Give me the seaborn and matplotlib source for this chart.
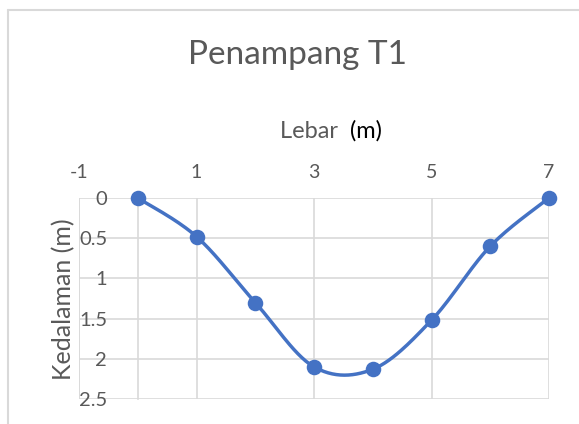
import numpy as np
import pandas as pd
import matplotlib
matplotlib.use('Agg')
import matplotlib.pyplot as plt
import seaborn as sns
from matplotlib.lines import Line2D

# Data
lebar = [0, 1, 2, 3, 4, 5, 6, 7]
kedalaman = [0, 0.48, 1.3, 2.1, 2.13, 1.52, 0.6, 0]
x_ticks = [-1, 1, 3, 5, 7]
y_ticks = [0, 0.5, 1, 1.5, 2, 2.5]
y_labels = ['0', '0.5', '1', '1.5', '2', '2.5']

blue = '#4472C4'
gray_text = '#595959'
grid_color = '#D9D9D9'

sns.set_style('white')
plt.rcParams['font.family'] = ['Lato', 'DejaVu Sans']
plt.rcParams['axes.unicode_minus'] = False


# Excel-like smoothed line (Bezier segments through the data points)
def excel_smooth(x, y, n=30):
    p = np.column_stack([x, y]).astype(float)
    p_ext = np.vstack([p[0], p, p[-1]])
    out = []
    for i in range(len(p) - 1):
        p0, p1, p2, p3 = p_ext[i], p_ext[i + 1], p_ext[i + 2], p_ext[i + 3]
        c1 = p1 + (p2 - p0) / 6
        c2 = p2 - (p3 - p1) / 6
        t = np.linspace(0, 1, n)[:, None]
        seg = ((1 - t) ** 3) * p1 + 3 * ((1 - t) ** 2) * t * c1 + 3 * (1 - t) * t ** 2 * c2 + t ** 3 * p2
        out.append(seg if i == 0 else seg[1:])
    return np.vstack(out)


df = pd.DataFrame({'lebar': lebar, 'kedalaman': kedalaman})
curve = excel_smooth(lebar, kedalaman)
curve_df = pd.DataFrame({'lebar': curve[:, 0], 'kedalaman': curve[:, 1]})

fig = plt.figure(figsize=(5.79, 4.24), dpi=100)
ax = fig.add_axes([79 / 579, 1 - 399 / 424, (549 - 79) / 579, (399 - 198) / 424])

sns.lineplot(x='lebar', y='kedalaman', data=curve_df, sort=False, color=blue, linewidth=2.5, ax=ax)
sns.scatterplot(x='lebar', y='kedalaman', data=df, color=blue, s=125, edgecolor=blue, linewidth=0,
                zorder=5, ax=ax, clip_on=False)

ax.set_xlim(-1, 7)
ax.set_ylim(2.5, 0)
ax.set_xticks(x_ticks)
ax.set_yticks(y_ticks)
ax.set_yticklabels(y_labels)
ax.xaxis.tick_top()
ax.tick_params(axis='x', length=0, pad=12, labelsize=14, labelcolor=gray_text)
ax.tick_params(axis='y', length=0, pad=22, labelsize=14.5, labelcolor=gray_text)

ax.grid(True, color=grid_color, linewidth=1.2)
ax.set_axisbelow(True)
for s in ['top', 'bottom', 'right']:
    ax.spines[s].set_visible(False)
ax.spines['left'].set_position(('data', 0))
ax.spines['left'].set_color(grid_color)
ax.spines['left'].set_linewidth(1.2)
ax.axvline(-1, color=grid_color, linewidth=1.2, zorder=0)

ax.set_xlabel('')
ax.set_ylabel('')
fig.text(64 / 579, 1 - 299 / 424, 'Kedalaman (m)', rotation=90, ha='center', va='center',
         fontsize=18, color=gray_text)
fig.text(350 / 579, 1 - 131 / 424, 'Lebar  ', ha='right', va='center', fontsize=17, color=gray_text)
fig.text(350 / 579, 1 - 131 / 424, '(m)', ha='left', va='center', fontsize=17, color='black')
fig.text(297 / 579, 1 - 55 / 424, 'Penampang T1', ha='center', va='center', fontsize=24, color=gray_text)

# chart border (only top and left edges fall inside the image)
fig.add_artist(Line2D([8 / 579, 8 / 579], [0, 1 - 10 / 424], transform=fig.transFigure,
                      color=grid_color, linewidth=1.5))
fig.add_artist(Line2D([8 / 579, 1], [1 - 10 / 424, 1 - 10 / 424], transform=fig.transFigure,
                      color=grid_color, linewidth=1.5))

fig.savefig('out.png', dpi=100)
